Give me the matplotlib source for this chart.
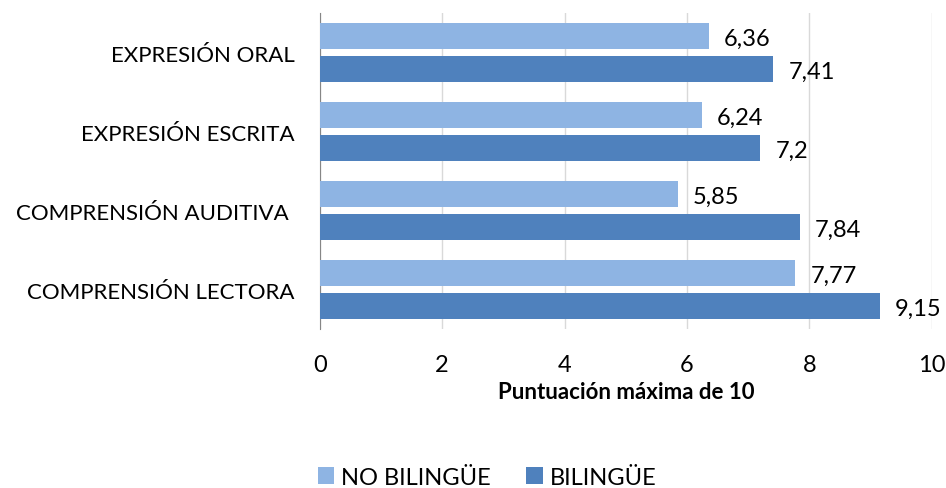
import matplotlib.pyplot as plt
import numpy as np

plt.rcParams['font.family'] = ['Lato', 'DejaVu Sans']

categorias = ['EXPRESIÓN ORAL', 'EXPRESIÓN ESCRITA', 'COMPRENSIÓN AUDITIVA ', 'COMPRENSIÓN LECTORA']
no_bilingue = [6.36, 6.24, 5.85, 7.77]
bilingue = [7.41, 7.2, 7.84, 9.15]
etiquetas_no = ['6,36', '6,24', '5,85', '7,77']
etiquetas_si = ['7,41', '7,2', '7,84', '9,15']

fig = plt.figure(figsize=(9.46, 4.89), dpi=100)
ax = fig.add_axes([0.338, 0.325, 0.647, 0.646])

y = np.arange(len(categorias))
h = 0.33
off = 0.21
b1 = ax.barh(y - off, no_bilingue, height=h, color='#8EB4E3', label='NO BILINGÜE', zorder=3)
b2 = ax.barh(y + off, bilingue, height=h, color='#4F81BD', label='BILINGÜE', zorder=3)

# etiquetas de valor al final de cada barra
for bars, labs in ((b1, etiquetas_no), (b2, etiquetas_si)):
    for r, t in zip(bars, labs):
        ax.annotate(t, (r.get_width(), r.get_y() + r.get_height() / 2),
                    xytext=(15, -2), textcoords='offset pixels',
                    va='center', ha='left', fontsize=17)

ax.set_xlim(0, 10)
ax.set_ylim(len(categorias) - 0.5, -0.5)
ax.set_xticks([0, 2, 4, 6, 8, 10])
ax.set_yticks(y)
ax.set_yticklabels(categorias, fontsize=16)
ax.tick_params(axis='x', labelsize=17, length=0, pad=18)
ax.tick_params(axis='y', length=0, pad=18)
ax.grid(axis='x', color='#D9D9D9', linewidth=1, zorder=0)
for s in ['top', 'right', 'bottom']:
    ax.spines[s].set_visible(False)
ax.spines['left'].set_color('#868686')
ax.set_xlabel('Puntuación máxima de 10', fontsize=16, fontweight='bold', labelpad=4)

fig.legend(handles=[b1, b2], loc='center', bbox_to_anchor=(0.515, 0.022), ncol=2,
           frameon=False, fontsize=17, handlelength=0.7, handleheight=0.7,
           handletextpad=0.3, columnspacing=1.5)

fig.savefig('out.png', dpi=100)
